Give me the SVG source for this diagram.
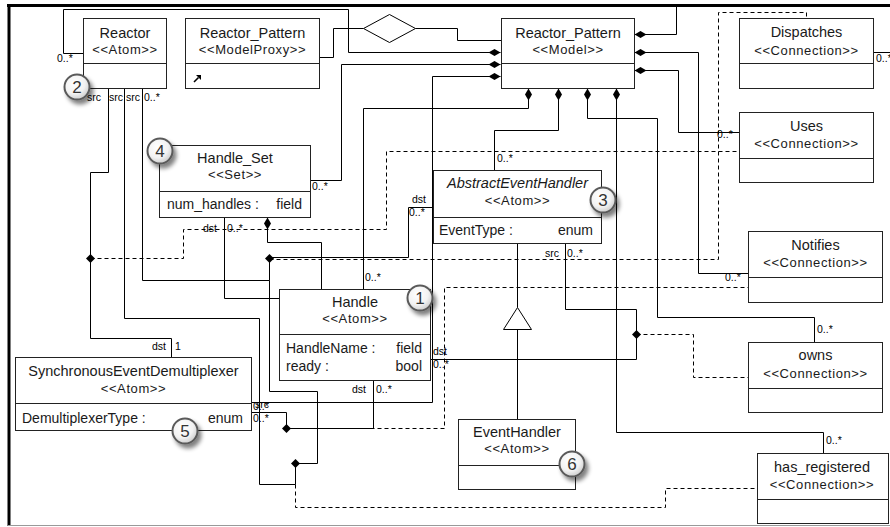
<svg xmlns="http://www.w3.org/2000/svg" width="890" height="527" viewBox="0 0 890 527">
<style>
.box{fill:#fff;stroke:#222;stroke-width:1}
.dv{stroke:#222;stroke-width:1}
text{font-family:"Liberation Sans",Arial,sans-serif;fill:#1a1a1a}
.nm{font-size:14.5px;text-anchor:middle}
.it{font-style:italic}
.st{font-size:13px;letter-spacing:0.6px;text-anchor:middle}
.at{font-size:14px}
.ar{font-size:14px;text-anchor:end}
.lb{font-size:10.5px;fill:#000}
.ln{fill:none;stroke:#000;stroke-width:1}
.da{fill:none;stroke:#000;stroke-width:1;stroke-dasharray:4,3}
.cp{marker-start:url(#comp)}
.jd{fill:#000}
.bc{fill:url(#bg);stroke:#5a5a5a;stroke-width:2;filter:url(#sh)}
.bn{font-family:"Liberation Sans",Arial,sans-serif;font-size:17px;text-anchor:middle;fill:#333}
</style>
<defs>
<marker id="comp" viewBox="0 -4 13 8" refX="0" refY="0" markerWidth="13" markerHeight="8" markerUnits="userSpaceOnUse" orient="auto"><path d="M0,0 L6,-3.5 L12,0 L6,3.5Z" fill="#000"/></marker>
<path id="jd" d="M-4.5,0 L0,-4.5 L4.5,0 L0,4.5Z"/>
<radialGradient id="bg" cx="40%" cy="35%" r="70%"><stop offset="0" stop-color="#fff"/><stop offset="0.6" stop-color="#f2f2f2"/><stop offset="1" stop-color="#c8c8c8"/></radialGradient>
<filter id="sh" x="-50%" y="-50%" width="200%" height="200%"><feGaussianBlur in="SourceAlpha" stdDeviation="2"/><feOffset dx="3" dy="4" result="b"/><feComponentTransfer in="b" result="c"><feFuncA type="linear" slope="0.5"/></feComponentTransfer><feMerge><feMergeNode in="c"/><feMergeNode in="SourceGraphic"/></feMerge></filter>
</defs>
<rect width="890" height="527" fill="#fff"/>
<g id="frame">
<line x1="7" y1="5.5" x2="890" y2="5.5" stroke="#000" stroke-width="3"/>
<line x1="9" y1="4" x2="9" y2="526" stroke="#000" stroke-width="3"/>
<line x1="8" y1="525.5" x2="890" y2="525.5" stroke="#999" stroke-width="1"/>
</g>
<g id="connectors">
<polyline class="ln cp" points="500.5,52.5 348.5,52.5 348.5,9.5 63.5,9.5 63.5,53.5 83.5,53.5"/>
<polyline class="ln cp" points="500.5,64.5 341.5,64.5 341.5,180.5 310.5,180.5"/>
<polyline class="ln cp" points="500.5,76.5 432.5,76.5 432.5,402.5 251.5,402.5"/>
<polyline class="ln cp" points="528.5,88.5 528.5,108.5 363.5,108.5 363.5,289.5"/>
<polyline class="ln cp" points="558.5,88.5 558.5,130.5 494.5,130.5 494.5,170.5"/>
<polyline class="ln cp" points="587.5,88.5 587.5,118.5 657.5,118.5 657.5,317.5 814.5,317.5 814.5,342.5"/>
<polyline class="ln cp" points="616.5,88.5 616.5,432.5 823.5,432.5 823.5,453.5"/>
<polyline class="ln cp" points="634.5,34.5 676.5,34.5 676.5,5"/>
<polyline class="ln" points="873.5,52.5 890,52.5"/>
<polyline class="ln cp" points="634.5,52.5 698.5,52.5 698.5,273.5 748.5,273.5"/>
<polyline class="ln cp" points="634.5,70.5 678.5,70.5 678.5,132.5 739.5,132.5"/>
<polyline class="ln cp" points="267.5,217.5 267.5,242.5 321.5,242.5 321.5,289.5"/>
<polyline class="ln" points="108.5,88.5 108.5,172.5 90.5,172.5 90.5,338.5 171.5,338.5 171.5,357.5"/>
<polyline class="ln" points="142.5,88.5 142.5,280.5 269.5,280.5 269.5,257.5 408.5,257.5 408.5,207.5 433.5,207.5"/>
<polyline class="ln" points="124.5,88.5 124.5,318.5 259.5,318.5 259.5,484.5 295.5,484.5 295.5,463.5 317.5,463.5 317.5,391.5 269.5,391.5 269.5,280.5"/>
<polyline class="ln" points="224.5,217.5 224.5,298.5 279.5,298.5"/>
<polyline class="ln" points="251.5,412.5 286.5,412.5 286.5,428.5 373.5,428.5 373.5,380.5"/>
<polyline class="ln" points="565.5,243.5 565.5,309.5 636.5,309.5 636.5,359.5 430.5,359.5"/>
<polyline class="ln" points="517.5,243.5 517.5,307.5"/>
<polygon points="517.5,307.5 503.5,329.5 531.5,329.5" fill="#fff" stroke="#000" stroke-width="1"/>
<polyline class="ln" points="517.5,329.5 517.5,419.5"/>
<polyline class="ln" points="319.5,57.5 333.5,57.5 333.5,28.5 363.5,28.5"/>
<polygon points="363.5,28.5 389.5,14.5 415.5,28.5 389.5,42.5" fill="#fff" stroke="#000" stroke-width="1"/>
<polyline class="ln" points="415.5,28.5 457.5,28.5 457.5,40.5 501.5,40.5"/>
<polyline class="da" points="90.5,258.5 183.5,258.5 183.5,229.5 386.5,229.5 386.5,151.5 739.5,151.5"/>
<polyline class="da" points="269.5,259.5 718.5,259.5 718.5,12.5 806.5,12.5 806.5,18.5"/>
<polyline class="da" points="286.5,428.5 444.5,428.5 444.5,287.5 748.5,287.5"/>
<polyline class="da" points="636.5,334.5 693.5,334.5 693.5,377.5 748.5,377.5"/>
<polyline class="da" points="295.5,463.5 295.5,507.5 665.5,507.5 665.5,488.5 757.5,488.5"/>
<use href="#jd" class="jd" x="90.5" y="258.5"/>
<use href="#jd" class="jd" x="269.5" y="258.5"/>
<use href="#jd" class="jd" x="286.5" y="428.5"/>
<use href="#jd" class="jd" x="295.5" y="463.5"/>
<use href="#jd" class="jd" x="636.5" y="334.5"/>
<text class="lb" x="57" y="62">0..*</text>
<text class="lb" x="87" y="101">src</text>
<text class="lb" x="109" y="101">src</text>
<text class="lb" x="126" y="101">src</text>
<text class="lb" x="144" y="101">0..*</text>
<text class="lb" x="312" y="190">0..*</text>
<text class="lb" x="203" y="232">dst</text>
<text class="lb" x="227" y="232">0..*</text>
<text class="lb" x="412" y="203">dst</text>
<text class="lb" x="409" y="216">0..*</text>
<text class="lb" x="497" y="162">0..*</text>
<text class="lb" x="545" y="257">src</text>
<text class="lb" x="567" y="257">0..*</text>
<text class="lb" x="365" y="281">0..*</text>
<text class="lb" x="433" y="355">dst</text>
<text class="lb" x="433" y="368">0..*</text>
<text class="lb" x="352" y="393">dst</text>
<text class="lb" x="376" y="393">0..*</text>
<text class="lb" x="152" y="350">dst</text>
<text class="lb" x="175" y="350">1</text>
<text class="lb" x="255" y="408">src</text>
<text class="lb" x="253" y="410">0..*</text>
<text class="lb" x="253" y="422">0..*</text>
<text class="lb" x="717" y="138">0..*</text>
<text class="lb" x="725" y="281">0..*</text>
<text class="lb" x="817" y="333">0..*</text>
<text class="lb" x="826" y="444">0..*</text>
<text class="lb" x="876" y="62">0..*</text>
</g>
<g id="Reactor">
<rect class="box" x="83.5" y="18.5" width="83" height="70"/>
<line class="dv" x1="83.5" y1="63.5" x2="166.5" y2="63.5"/>
<text class="nm" x="125" y="38">Reactor</text>
<text class="st" x="125" y="54">&lt;&lt;Atom&gt;&gt;</text>
</g>
<g id="Reactor_Pattern_ModelProxy">
<rect class="box" x="185.5" y="18.5" width="134" height="70"/>
<line class="dv" x1="185.5" y1="63.5" x2="319.5" y2="63.5"/>
<text class="nm" x="252.5" y="38">Reactor_Pattern</text>
<text class="st" x="252.5" y="54">&lt;&lt;ModelProxy&gt;&gt;</text>
<path d="M194,82 L198.5,77.5" stroke="#000" stroke-width="1.6"/>
<path d="M196,75 L201,75 L201,80Z" fill="#000"/>
</g>
<g id="Reactor_Pattern_Model">
<rect class="box" x="501.5" y="18.5" width="133" height="70"/>
<line class="dv" x1="501.5" y1="63.5" x2="634.5" y2="63.5"/>
<text class="nm" x="568" y="38">Reactor_Pattern</text>
<text class="st" x="568" y="54">&lt;&lt;Model&gt;&gt;</text>
</g>
<g id="Dispatches">
<rect class="box" x="739.5" y="18.5" width="134" height="70"/>
<line class="dv" x1="739.5" y1="63.5" x2="873.5" y2="63.5"/>
<text class="nm" x="806.5" y="37">Dispatches</text>
<text class="st" x="806.5" y="55">&lt;&lt;Connection&gt;&gt;</text>
</g>
<g id="Uses">
<rect class="box" x="739.5" y="112.5" width="134" height="70"/>
<line class="dv" x1="739.5" y1="158.5" x2="873.5" y2="158.5"/>
<text class="nm" x="806.5" y="131">Uses</text>
<text class="st" x="806.5" y="148">&lt;&lt;Connection&gt;&gt;</text>
</g>
<g id="Handle_Set">
<rect class="box" x="159.5" y="145.5" width="151" height="72"/>
<line class="dv" x1="159.5" y1="191.5" x2="310.5" y2="191.5"/>
<text class="nm" x="235" y="163">Handle_Set</text>
<text class="st" x="235" y="179">&lt;&lt;Set&gt;&gt;</text>
<text class="at" x="167" y="209">num_handles :</text>
<text class="ar" x="302" y="209">field</text>
</g>
<g id="AbstractEventHandler">
<rect class="box" x="433.5" y="170.5" width="168" height="73"/>
<line class="dv" x1="433.5" y1="217.5" x2="601.5" y2="217.5"/>
<text class="nm it" x="517.5" y="188">AbstractEventHandler</text>
<text class="st" x="517.5" y="205">&lt;&lt;Atom&gt;&gt;</text>
<text class="at" x="439" y="235">EventType :</text>
<text class="ar" x="593" y="235">enum</text>
</g>
<g id="Notifies">
<rect class="box" x="748.5" y="231.5" width="134" height="71"/>
<line class="dv" x1="748.5" y1="277.5" x2="882.5" y2="277.5"/>
<text class="nm" x="815.5" y="250">Notifies</text>
<text class="st" x="815.5" y="267">&lt;&lt;Connection&gt;&gt;</text>
</g>
<g id="Handle">
<rect class="box" x="279.5" y="289.5" width="151" height="91"/>
<line class="dv" x1="279.5" y1="334.5" x2="430.5" y2="334.5"/>
<text class="nm" x="355" y="307">Handle</text>
<text class="st" x="355" y="323">&lt;&lt;Atom&gt;&gt;</text>
<text class="at" x="286" y="353">HandleName :</text>
<text class="ar" x="422" y="353">field</text>
<text class="at" x="286" y="371">ready :</text>
<text class="ar" x="422" y="371">bool</text>
</g>
<g id="SynchronousEventDemultiplexer">
<rect class="box" x="15.5" y="357.5" width="236" height="73"/>
<line class="dv" x1="15.5" y1="403.5" x2="251.5" y2="403.5"/>
<text class="nm" x="133.5" y="376">SynchronousEventDemultiplexer</text>
<text class="st" x="133.5" y="393">&lt;&lt;Atom&gt;&gt;</text>
<text class="at" x="22" y="423">DemultiplexerType :</text>
<text class="ar" x="243" y="423">enum</text>
</g>
<g id="EventHandler">
<rect class="box" x="458.5" y="419.5" width="117" height="70"/>
<line class="dv" x1="458.5" y1="465.5" x2="575.5" y2="465.5"/>
<text class="nm" x="517" y="437">EventHandler</text>
<text class="st" x="517" y="453">&lt;&lt;Atom&gt;&gt;</text>
</g>
<g id="owns">
<rect class="box" x="748.5" y="342.5" width="134" height="70"/>
<line class="dv" x1="748.5" y1="388.5" x2="882.5" y2="388.5"/>
<text class="nm" x="815.5" y="360">owns</text>
<text class="st" x="815.5" y="378">&lt;&lt;Connection&gt;&gt;</text>
</g>
<g id="has_registered">
<rect class="box" x="757.5" y="453.5" width="131" height="70"/>
<line class="dv" x1="757.5" y1="499.5" x2="888.5" y2="499.5"/>
<text class="nm" x="822" y="472">has_registered</text>
<text class="st" x="822" y="489">&lt;&lt;Connection&gt;&gt;</text>
</g>
<g id="badges">
<g id="badge-1"><circle class="bc" cx="420" cy="298" r="12.5"/><text class="bn" x="420" y="304">1</text></g>
<g id="badge-2"><circle class="bc" cx="77" cy="87" r="12.5"/><text class="bn" x="77" y="93">2</text></g>
<g id="badge-3"><circle class="bc" cx="603" cy="200" r="12.5"/><text class="bn" x="603" y="206">3</text></g>
<g id="badge-4"><circle class="bc" cx="160" cy="151" r="12.5"/><text class="bn" x="160" y="157">4</text></g>
<g id="badge-5"><circle class="bc" cx="185" cy="431" r="12.5"/><text class="bn" x="185" y="437">5</text></g>
<g id="badge-6"><circle class="bc" cx="572" cy="464" r="12.5"/><text class="bn" x="572" y="470">6</text></g>
</g>
</svg>
